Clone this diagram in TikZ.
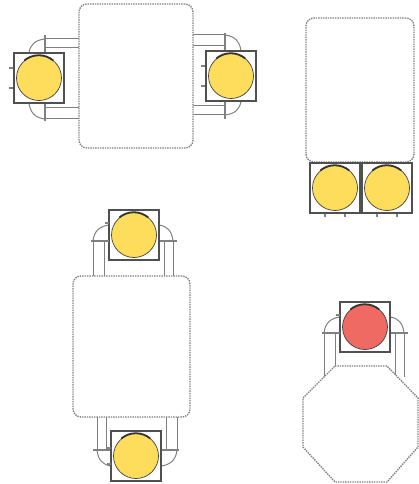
\documentclass[tikz,border=0pt]{standalone}
\usepackage{tikz}
\definecolor{lampyellow}{HTML}{FFDD5C}
\definecolor{lampred}{HTML}{EE6A62}
\definecolor{edgegray}{HTML}{808080}
\definecolor{boxgray}{HTML}{505050}

\begin{document}
\begin{tikzpicture}[x=1pt,y=-1pt,
  tabletop/.style={draw=edgegray,fill=white,densely dotted,line width=1.4pt,rounded corners=8pt,inner sep=0pt},
  lampbox/.style={draw=boxgray,fill=white,line width=1.3pt,minimum size=50pt,inner sep=0pt},
  lampface/.style={draw=black!75,line width=.7pt,circle,minimum size=45pt,inner sep=0pt},
  armline/.style={draw=edgegray,line width=1pt},
  nub/.style={draw=edgegray,line width=1.6pt}]
  \useasboundingbox (0,0) rectangle (419,484);
  % arms first, the table tops cover their far ends
  \foreach \cx/\cy/\turn in {39/78/90,231/76/-90,134/235/0,136/456/180,365/327/0}{
    \begin{scope}[shift={(\cx,\cy)},rotate=\turn]
      \draw[armline,line width=1.5pt] (-43,6)--(43,6);
      \foreach \ax in {-41,-30,30,39}
        \draw[armline] (\ax,6)--(\ax,50);
      \draw[armline] (-41,6) .. controls (-40,-4) and (-34,-9) .. (-25,-10);
      \draw[armline] (39,6) .. controls (38,-4) and (33,-9) .. (25,-10);
    \end{scope}
  }
  % tables
  \node[tabletop,minimum width=114pt,minimum height=144pt] (tableleft) at (136,76) {};
  \node[tabletop,minimum width=108pt,minimum height=144pt] (tableright) at (360,90) {};
  \node[tabletop,minimum width=117pt,minimum height=141pt] (tablemiddle) at (131.5,346.5) {};
  \draw[edgegray,fill=white,densely dotted,line width=1.4pt] (335,366)--(387,366)--(418,398)--(418,447)--(387,482)--(335,482)--(303,447)--(303,398)--cycle;
  % lamps
  \foreach \name/\cx/\cy/\col in {a/39/78/lampyellow,b/231/76/lampyellow,c/335/188/lampyellow,d/387/188/lampyellow,e/134/235/lampyellow,f/136/456/lampyellow,g/365/327/lampred}{
    \node[lampbox] (box\name) at (\cx,\cy) {};
    \node[lampface,fill=\col] (face\name) at (\cx,\cy) {};
    \draw[black!80,line width=1.8pt] (face\name.130) arc[start angle=130,end angle=50,radius=22.5pt];
  }
  % small tabs on the lamp boxes
  \draw[nub] (boxa.west)++(-4,-10)--++(4,0) (boxa.west)++(-4,10)--++(4,0);
  \draw[nub] (boxb.west)++(-4,-10)--++(4,0) (boxb.west)++(-4,10)--++(4,0);
  \draw[nub] (boxc.south)++(-10,0)--++(0,3) (boxc.south)++(10,0)--++(0,3);
  \draw[nub] (boxd.south)++(-10,0)--++(0,3) (boxd.south)++(10,0)--++(0,3);
  \draw[nub] (boxe.west)++(-3,-12)--++(4,0) (boxe.west)++(-3,6)--++(4,0);
  \draw[nub] (boxf.west)++(-3,-8)--++(4,0) (boxf.west)++(-3,8)--++(4,0);
  \draw[nub] (boxg.west)++(-3,-12)--++(4,0) (boxg.west)++(-3,6)--++(4,0);
\end{tikzpicture}
\end{document}
